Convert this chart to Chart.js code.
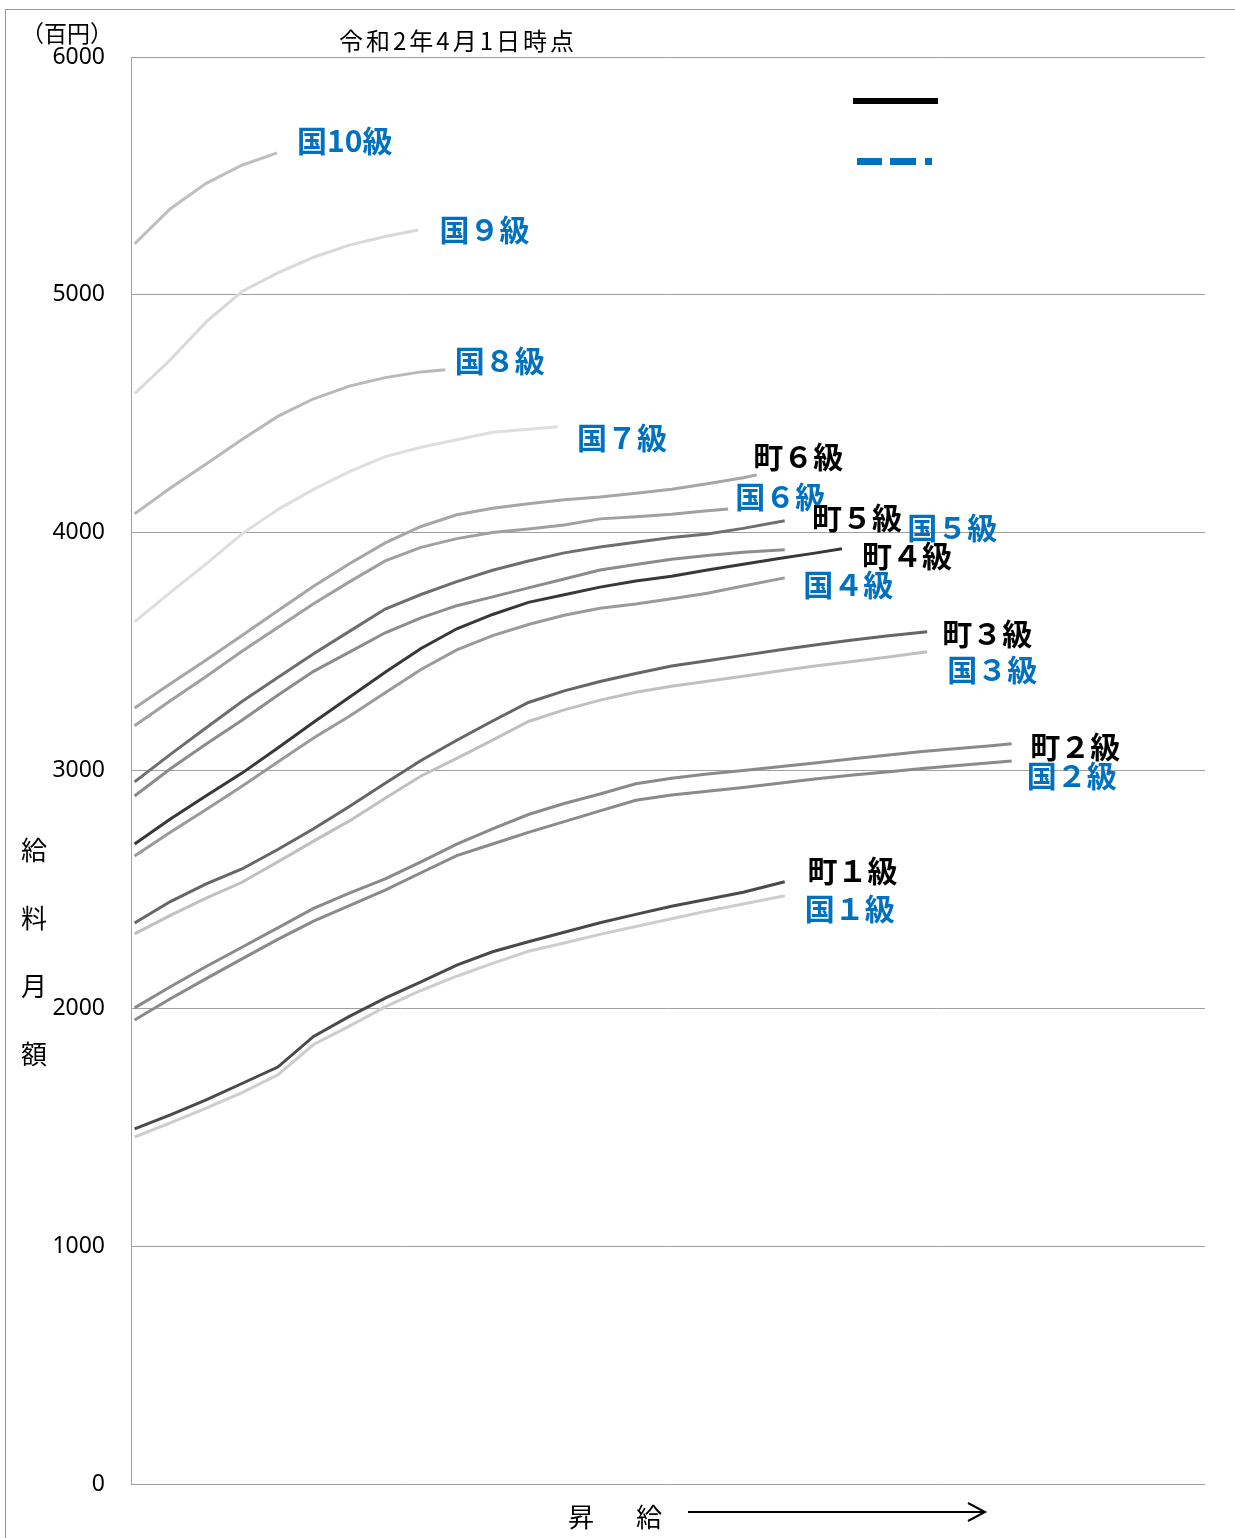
<!DOCTYPE html>
<html lang="ja">
<head>
<meta charset="utf-8">
<title>給料月額</title>
<script src="https://cdn.jsdelivr.net/npm/chart.js@4.4.1/dist/chart.umd.min.js"></script>
<style>
  html, body { margin: 0; padding: 0; background: #fff; }
  #wrap { position: relative; width: 1235px; height: 1538px; overflow: hidden; }
  #frame { position: absolute; left: 5px; top: 9px; width: 1300px; height: 1600px;
           border-left: 1px solid #999; border-top: 1px solid #999; }
  #salaryChart { position: absolute; left: 0; top: 0; }
</style>
</head>
<body>
<div id="wrap">
  <div id="frame"></div>
  <canvas id="salaryChart" width="1235" height="1538"></canvas>
</div>
<script>
// values sampled every 5 steps (昇給), last value sits at the series' own last step
const stepSize = 5;
const yTicks = [0, 1000, 2000, 3000, 4000, 5000, 6000];

const seriesNames = ['国10級', '国９級', '国８級', '国７級', '町６級', '国６級', '町５級', '国５級',
  '町４級', '国４級', '町３級', '国３級', '町２級', '国２級', '町１級', '国１級'];
const lastStep = [19.9, 39.6, 43.4, 59.1, 86.9, 82.9, 90.8, 90.8,
  98.8, 90.8, 110.7, 110.7, 122.5, 122.5, 90.8, 90.8];

const kuni10 = [5214, 5362, 5469, 5545, 5597];
const kuni9 = [4584, 4727, 4886, 5014, 5092, 5158, 5209, 5245, 5273];
const kuni8 = [4079, 4188, 4289, 4392, 4489, 4563, 4616, 4652, 4676, 4685];
const kuni7 = [3625, 3749, 3869, 3995, 4097, 4182, 4257, 4320, 4359, 4391, 4422, 4435, 4445];
const machi6 = [3263, 3365, 3465, 3568, 3672, 3775, 3869, 3957, 4026, 4075, 4103, 4122, 4138, 4150, 4166, 4183, 4206, 4231, 4243];
const kuni6 = [3188, 3293, 3395, 3501, 3601, 3701, 3793, 3881, 3938, 3975, 4001, 4015, 4032, 4058, 4067, 4077, 4092, 4100];
const machi5 = [2952, 3068, 3180, 3290, 3391, 3491, 3585, 3679, 3740, 3794, 3842, 3881, 3915, 3940, 3960, 3980, 3994, 4018, 4050];
const kuni5 = [2893, 3007, 3111, 3211, 3316, 3417, 3498, 3579, 3642, 3693, 3730, 3768, 3805, 3843, 3866, 3888, 3904, 3918, 3928];
const machi4 = [2691, 2796, 2894, 2989, 3095, 3203, 3308, 3413, 3513, 3596, 3656, 3707, 3739, 3771, 3797, 3817, 3843, 3867, 3891, 3914, 3932];
const kuni4 = [2641, 2740, 2836, 2934, 3036, 3137, 3228, 3327, 3425, 3507, 3567, 3614, 3653, 3682, 3700, 3722, 3745, 3776, 3810];
const machi3 = [2359, 2449, 2523, 2586, 2668, 2755, 2849, 2946, 3042, 3127, 3208, 3286, 3335, 3374, 3408, 3439, 3461, 3484, 3507, 3528, 3548, 3566, 3583];
const kuni3 = [2313, 2391, 2463, 2530, 2616, 2703, 2788, 2883, 2977, 3051, 3128, 3206, 3255, 3296, 3329, 3354, 3375, 3396, 3418, 3439, 3457, 3476, 3499];
const machi2 = [2002, 2091, 2176, 2257, 2338, 2420, 2484, 2544, 2616, 2690, 2755, 2815, 2861, 2901, 2944, 2967, 2985, 3000, 3016, 3032, 3048, 3064, 3080, 3093, 3105, 3112];
const kuni2 = [1951, 2040, 2125, 2208, 2290, 2367, 2432, 2497, 2570, 2642, 2691, 2740, 2785, 2830, 2875, 2897, 2913, 2929, 2946, 2964, 2980, 2994, 3008, 3021, 3034, 3040];
const machi1 = [1493, 1552, 1615, 1684, 1753, 1882, 1966, 2043, 2111, 2182, 2238, 2280, 2320, 2360, 2395, 2429, 2459, 2488, 2532];
const kuni1 = [1459, 1518, 1580, 1646, 1720, 1848, 1925, 2006, 2075, 2135, 2189, 2240, 2275, 2311, 2344, 2377, 2409, 2439, 2473];

const seriesValues = [kuni10, kuni9, kuni8, kuni7, machi6, kuni6, machi5, kuni5,
  machi4, kuni4, machi3, kuni3, machi2, kuni2, machi1, kuni1];

// where each series name is written (step, value)
const labelStep = [22.7, 42.6, 44.7, 61.8, 86.4, 83.9, 94.6, 107.9, 101.6, 93.4, 112.8, 113.5, 125.1, 124.6, 94.0, 93.6];
const labelValue = [5647, 5273, 4722, 4399, 4319, 4150, 4062, 4020, 3902, 3780, 3574, 3423, 3099, 2977, 2578, 2418];

const lineColors = ['#bfbfbf', '#d9d9d9', '#b8b8b8', '#dedede', '#a6a6a6', '#a0a0a0', '#6e6e6e', '#8c8c8c',
  '#383838', '#9a9a9a', '#666666', '#c0c0c0', '#8a8a8a', '#8a8a8a', '#4a4a4a', '#cdcdcd'];

const BLUE = '#0070c0';
const jp = '"Noto Sans CJK JP", "Noto Sans", sans-serif';

const datasets = seriesNames.map((name, k) => {
  const vals = seriesValues[k];
  return {
    label: name,
    data: vals.map((v, i) => ({ x: i === vals.length - 1 ? lastStep[k] : i * stepSize, y: v })),
    borderColor: lineColors[k],
    borderWidth: 3,
    pointRadius: 0,
    tension: 0,
    fill: false
  };
});

// text and marks outside the data: title, unit, axis titles, legend marks, series names
const decorations = {
  id: 'decorations',
  afterDatasetsDraw(chart) {
    const ctx = chart.ctx;
    const xs = chart.scales.x, ys = chart.scales.y;
    ctx.save();
    ctx.fillStyle = '#000';
    ctx.textBaseline = 'middle';
    ctx.textAlign = 'left';

    ctx.font = '24px ' + jp;
    ctx.letterSpacing = '3px';
    ctx.fillText('令和2年4月1日時点', 339, 41);
    ctx.letterSpacing = '0px';
    ctx.font = '23px ' + jp;
    ctx.fillText('（百円）', 21, 33);

    ctx.font = '26px ' + jp;
    ctx.textAlign = 'center';
    ['給', '料', '月', '額'].forEach((ch, i) => ctx.fillText(ch, 34, 850 + i * 68));
    ctx.fillText('昇', 581, 1517);
    ctx.fillText('給', 649, 1517);

    // arrow
    ctx.strokeStyle = '#000';
    ctx.lineWidth = 2;
    ctx.beginPath();
    ctx.moveTo(688, 1512); ctx.lineTo(984, 1512);
    ctx.moveTo(968, 1503); ctx.lineTo(985, 1512); ctx.lineTo(968, 1521);
    ctx.stroke();

    // legend marks (no text in the original)
    ctx.fillStyle = '#000';
    ctx.fillRect(853, 98, 85, 6);
    ctx.fillStyle = BLUE;
    ctx.fillRect(857, 158, 25, 7);
    ctx.fillRect(890, 158, 26, 7);
    ctx.fillRect(925, 158, 7, 7);

    // series names
    ctx.textAlign = 'left';
    ctx.font = 'bold 30px ' + jp;
    seriesNames.forEach((name, k) => {
      const x = xs.getPixelForValue(labelStep[k]);
      const y = ys.getPixelForValue(labelValue[k]);
      const isMachi = name.startsWith('町');
      if (isMachi) {
        const w = ctx.measureText(name).width;
        ctx.fillStyle = '#fff';
        ctx.fillRect(x - 1, y - 13, w + 2, 26);
      }
      ctx.fillStyle = isMachi ? '#000' : BLUE;
      ctx.fillText(name, x, y);
    });
    ctx.restore();
  }
};

const ctx = document.getElementById('salaryChart').getContext('2d');
new Chart(ctx, {
  type: 'line',
  data: { datasets: datasets },
  options: {
    responsive: false,
    animation: false,
    layout: { padding: { top: 57, right: 30, bottom: 54, left: 0 } },
    plugins: {
      legend: { display: false },
      tooltip: { enabled: false }
    },
    scales: {
      x: {
        type: 'linear',
        min: -0.5,
        max: 149.5,
        display: false
      },
      y: {
        min: 0,
        max: 6000,
        afterBuildTicks: s => { s.ticks = yTicks.map(v => ({ value: v })); },
        afterFit: s => { s.width = 131; },
        grid: { color: '#a0a0a0', lineWidth: 1, drawTicks: false },
        border: { color: '#a0a0a0' },
        ticks: {
          padding: 26,
          color: '#000',
          font: { family: '"Noto Sans", sans-serif', size: 23 },
          callback: v => String(v)
        }
      }
    }
  },
  plugins: [decorations]
});
</script>
</body>
</html>
